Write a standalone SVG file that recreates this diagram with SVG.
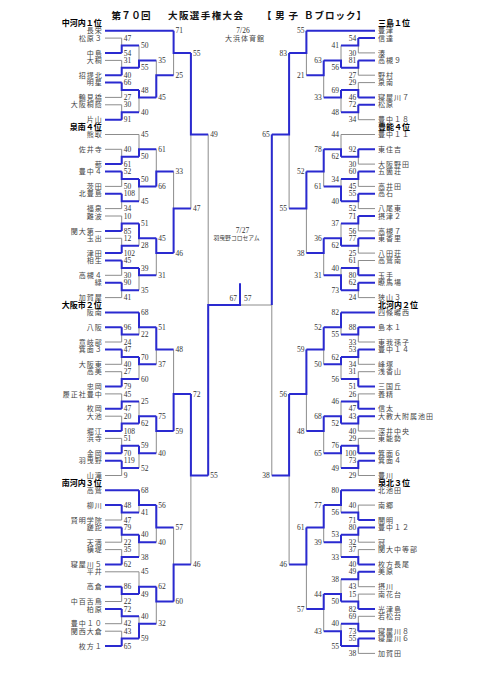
<svg xmlns="http://www.w3.org/2000/svg" width="481" height="680" viewBox="0 0 481 680">
<style>
.g{fill:none;stroke:#8c8c8c;stroke-width:1}
.b{fill:none;stroke:#2a2ad0;stroke-width:2}
.n{font-family:"Liberation Serif",serif;font-size:7.5px;fill:#333}
.nl text{text-anchor:start}
.nr text{text-anchor:end}
.t{font-family:"Noto Sans CJK JP",sans-serif;font-size:7px;letter-spacing:1px;fill:#444}
.tl{text-anchor:end}
.h{font-family:"Noto Sans CJK JP",sans-serif;font-size:8px;font-weight:bold;fill:#000}
.ti{font-family:"Noto Sans CJK JP",sans-serif;font-size:9.5px;font-weight:bold;fill:#111}
.s{font-family:"Noto Sans CJK JP",sans-serif;fill:#444}
</style>
<rect width="481" height="680" fill="#fff"/>
<g id="title">
<text class="ti" x="111.5" y="18.5" textLength="39" lengthAdjust="spacing">第７０回</text>
<text class="ti" x="168" y="18.5" textLength="75" lengthAdjust="spacing">大阪選手権大会</text>
<text class="ti" x="262" y="18.5" textLength="36" lengthAdjust="spacing">【男子</text>
<text class="ti" x="304" y="18.5" textLength="62" lengthAdjust="spacing">Ｂブロック】</text>
</g>
<g id="venue1">
<text class="n" x="243" y="33" text-anchor="middle">7/26</text>
<text class="s" x="245" y="40.5" font-size="7" letter-spacing="1" text-anchor="middle">大浜体育館</text>
</g>
<g id="venue2">
<text class="n" x="242.5" y="232.5" text-anchor="middle">7/27</text>
<text class="s" x="236.5" y="239.5" font-size="5.8" text-anchor="middle">羽曳野コロセアム</text>
</g>
<g id="connectors">
<path class="g" d="M105 38.1H121.7M105 60.4H121.7M105 97.4H121.7M105 104.8H121.7M105 134.5H139M105 149.3H121.7M105 186.4H121.7M105 208.6H121.7M105 216H121.7M105 238.3H121.7M105 275.3H121.7M105 297.6H121.7M105 342H121.7M105 364.3H121.7M105 371.7H121.7M105 393.9H121.7M105 416.2H121.7M105 438.4H121.7M105 475.5H121.7M105 520H121.7M105 542.2H121.7M105 549.6H121.7M105 571.8H139M105 601.5H121.7M105 623.7H121.7M105 631.2H121.7
M121.7 38.1V52.9M121.7 60.4V75.2M121.7 82.6V97.4M121.7 104.8V119.7M121.7 149.3V164.1M121.7 171.5V186.4M121.7 193.8V208.6M121.7 216V230.9M121.7 238.3V253.1M121.7 260.5V275.3M121.7 282.7V297.6M121.7 327.2V342M121.7 349.5V364.3M121.7 371.7V386.5M121.7 393.9V408.8M121.7 416.2V431M121.7 438.4V453.2M121.7 460.7V475.5M121.7 505.1V520M121.7 527.4V542.2M121.7 549.6V564.4M121.7 586.7V601.5M121.7 608.9V623.7M121.7 631.2V646
M139 45.5V67.8M139 90V112.2M139 134.5V156.7M139 178.9V201.2M139 223.4V245.7M139 267.9V290.2M139 312.4V334.6M139 356.9V379.1M139 401.4V423.6M139 445.8V468.1M139 490.3V512.5M139 534.8V557M139 571.8V594.1M139 616.3V638.6
M156.3 60.4V97.4M156.3 149.3V186.4M156.3 238.3V275.3M156.3 327.2V364.3M156.3 416.2V453.2M156.3 505.1V542.2M156.3 586.7V623.7
M173.6 30.7V75.2M173.6 171.5V253.1M173.6 349.5V431M173.6 527.4V601.5
M190.9 52.9V208.6M190.9 393.9V564.4
M208.2 134.5V475.5
M240 305H271.8
M375 52.9H358.3M375 75.2H358.3M375 82.6H358.3M375 119.7H358.3M375 134.5H341M375 164.1H358.3M375 186.4H358.3M375 208.6H358.3M375 230.9H358.3M375 253.1H358.3M375 260.5H358.3M375 297.6H358.3M375 342H358.3M375 364.3H358.3M375 371.7H358.3M375 393.9H358.3M375 431H358.3M375 438.4H358.3M375 475.5H358.3M375 505.1H358.3M375 542.2H358.3M375 549.6H358.3M375 586.7H358.3M375 594.1H358.3M375 616.3H358.3M375 653.4H358.3
M358.3 38.1V52.9M358.3 60.4V75.2M358.3 82.6V97.4M358.3 104.8V119.7M358.3 149.3V164.1M358.3 171.5V186.4M358.3 193.8V208.6M358.3 216V230.9M358.3 238.3V253.1M358.3 260.5V275.3M358.3 282.7V297.6M358.3 327.2V342M358.3 349.5V364.3M358.3 371.7V386.5M358.3 393.9V408.8M358.3 416.2V431M358.3 438.4V453.2M358.3 460.7V475.5M358.3 505.1V520M358.3 527.4V542.2M358.3 549.6V564.4M358.3 571.8V586.7M358.3 594.1V608.9M358.3 616.3V631.2M358.3 638.6V653.4
M341 45.5V67.8M341 90V112.2M341 134.5V156.7M341 178.9V201.2M341 223.4V245.7M341 267.9V290.2M341 312.4V334.6M341 356.9V379.1M341 401.4V423.6M341 445.8V468.1M341 490.3V512.5M341 534.8V557M341 579.3V601.5M341 623.7V646
M323.7 60.4V97.4M323.7 149.3V186.4M323.7 238.3V275.3M323.7 327.2V364.3M323.7 416.2V453.2M323.7 505.1V542.2M323.7 594.1V631.2
M306.4 30.7V75.2M306.4 171.5V253.1M306.4 349.5V431M306.4 527.4V608.9
M289.1 52.9V208.6M289.1 393.9V564.4
M271.8 134.5V475.5"/>
<path class="b" d="M105 30.7H173.6M105 52.9H121.7M105 75.2H121.7M105 82.6H121.7M105 119.7H121.7M105 164.1H121.7M105 171.5H121.7M105 193.8H121.7M105 230.9H121.7M105 253.1H121.7M105 260.5H121.7M105 282.7H121.7M105 312.4H139M105 327.2H121.7M105 349.5H121.7M105 386.5H121.7M105 408.8H121.7M105 431H121.7M105 453.2H121.7M105 460.7H121.7M105 490.3H139M105 505.1H121.7M105 527.4H121.7M105 564.4H121.7M105 586.7H121.7M105 608.9H121.7M105 646H121.7
M121.7 52.9V45.5H139M121.7 75.2V67.8H139M121.7 82.6V90H139M121.7 119.7V112.2H139M121.7 164.1V156.7H139M121.7 171.5V178.9H139M121.7 193.8V201.2H139M121.7 230.9V223.4H139M121.7 253.1V245.7H139M121.7 260.5V267.9H139M121.7 282.7V290.2H139M121.7 327.2V334.6H139M121.7 349.5V356.9H139M121.7 386.5V379.1H139M121.7 408.8V401.4H139M121.7 431V423.6H139M121.7 453.2V445.8H139M121.7 460.7V468.1H139M121.7 505.1V512.5H139M121.7 527.4V534.8H139M121.7 564.4V557H139M121.7 586.7V594.1H139M121.7 608.9V616.3H139M121.7 646V638.6H139
M139 67.8V60.4H156.3M139 90V97.4H156.3M139 156.7V149.3H156.3M139 178.9V186.4H156.3M139 223.4V238.3H156.3M139 267.9V275.3H156.3M139 312.4V327.2H156.3M139 356.9V364.3H156.3M139 423.6V416.2H156.3M139 445.8V453.2H156.3M139 490.3V505.1H156.3M139 534.8V542.2H156.3M139 594.1V586.7H156.3M139 638.6V623.7H156.3
M156.3 97.4V75.2H173.6M156.3 186.4V171.5H173.6M156.3 238.3V253.1H173.6M156.3 327.2V349.5H173.6M156.3 416.2V431H173.6M156.3 505.1V527.4H173.6M156.3 586.7V601.5H173.6
M173.6 30.7V52.9H190.9M173.6 253.1V208.6H190.9M173.6 431V393.9H190.9M173.6 601.5V564.4H190.9
M190.9 52.9V134.5H208.2M190.9 393.9V475.5H208.2
M208.2 475.5V305H240V283.3
M375 30.7H306.4M375 38.1H358.3M375 60.4H358.3M375 97.4H358.3M375 104.8H358.3M375 149.3H358.3M375 171.5H358.3M375 193.8H358.3M375 216H358.3M375 238.3H358.3M375 275.3H358.3M375 282.7H358.3M375 312.4H341M375 327.2H358.3M375 349.5H358.3M375 386.5H358.3M375 408.8H358.3M375 416.2H358.3M375 453.2H358.3M375 460.7H358.3M375 490.3H341M375 520H358.3M375 527.4H358.3M375 564.4H358.3M375 571.8H358.3M375 608.9H358.3M375 631.2H358.3M375 638.6H358.3
M358.3 38.1V45.5H341M358.3 60.4V67.8H341M358.3 97.4V90H341M358.3 104.8V112.2H341M358.3 149.3V156.7H341M358.3 171.5V178.9H341M358.3 193.8V201.2H341M358.3 216V223.4H341M358.3 238.3V245.7H341M358.3 275.3V267.9H341M358.3 282.7V290.2H341M358.3 327.2V334.6H341M358.3 349.5V356.9H341M358.3 386.5V379.1H341M358.3 408.8V401.4H341M358.3 416.2V423.6H341M358.3 453.2V445.8H341M358.3 460.7V468.1H341M358.3 520V512.5H341M358.3 527.4V534.8H341M358.3 564.4V557H341M358.3 571.8V579.3H341M358.3 608.9V601.5H341M358.3 631.2V623.7H341M358.3 638.6V646H341
M341 67.8V60.4H323.7M341 90V97.4H323.7M341 156.7V149.3H323.7M341 201.2V186.4H323.7M341 245.7V238.3H323.7M341 290.2V275.3H323.7M341 312.4V327.2H323.7M341 356.9V364.3H323.7M341 423.6V416.2H323.7M341 445.8V453.2H323.7M341 490.3V505.1H323.7M341 534.8V542.2H323.7M341 601.5V594.1H323.7M341 646V631.2H323.7
M323.7 60.4V75.2H306.4M323.7 149.3V171.5H306.4M323.7 238.3V253.1H306.4M323.7 327.2V349.5H306.4M323.7 416.2V431H306.4M323.7 505.1V527.4H306.4M323.7 594.1V608.9H306.4
M306.4 30.7V52.9H289.1M306.4 171.5V208.6H289.1M306.4 349.5V393.9H289.1M306.4 527.4V564.4H289.1
M289.1 52.9V134.5H271.8M289.1 393.9V475.5H271.8
M271.8 134.5V305"/>
</g>
<g id="scores-left" class="n nl">
<text x="123.7" y="40.7">47</text><text x="123.7" y="55.5">54</text><text x="123.7" y="63">31</text><text x="123.7" y="77.8">40</text><text x="123.7" y="85.2">66</text><text x="123.7" y="100">27</text><text x="123.7" y="107.4">30</text><text x="123.7" y="122.3">91</text><text x="123.7" y="151.9">40</text><text x="123.7" y="166.7">61</text><text x="123.7" y="174.1">52</text><text x="123.7" y="189">50</text><text x="123.7" y="196.4">108</text><text x="123.7" y="211.2">34</text><text x="123.7" y="218.6">10</text><text x="123.7" y="233.5">85</text><text x="123.7" y="240.9">12</text><text x="123.7" y="255.7">102</text><text x="123.7" y="263.1">45</text><text x="123.7" y="277.9">30</text><text x="123.7" y="285.3">90</text><text x="123.7" y="300.2">41</text><text x="123.7" y="329.8">96</text><text x="123.7" y="344.6">24</text><text x="123.7" y="352.1">47</text><text x="123.7" y="366.9">40</text><text x="123.7" y="374.3">27</text><text x="123.7" y="389.1">79</text><text x="123.7" y="396.5">45</text><text x="123.7" y="411.4">47</text><text x="123.7" y="418.8">20</text><text x="123.7" y="433.6">108</text><text x="123.7" y="441">51</text><text x="123.7" y="455.8">70</text><text x="123.7" y="463.3">119</text><text x="123.7" y="478.1">9</text><text x="123.7" y="507.7">48</text><text x="123.7" y="522.6">47</text><text x="123.7" y="530">79</text><text x="123.7" y="544.8">22</text><text x="123.7" y="552.2">35</text><text x="123.7" y="567">62</text><text x="123.7" y="589.3">86</text><text x="123.7" y="604.1">22</text><text x="123.7" y="611.5">72</text><text x="123.7" y="626.3">42</text><text x="123.7" y="633.8">43</text><text x="123.7" y="648.6">65</text>
<text x="141" y="48.1">50</text><text x="141" y="70.4">55</text><text x="141" y="92.6">48</text><text x="141" y="114.8">40</text><text x="141" y="137.1">45</text><text x="141" y="159.3">50</text><text x="141" y="181.5">50</text><text x="141" y="203.8">45</text><text x="141" y="226">51</text><text x="141" y="248.3">28</text><text x="141" y="270.5">39</text><text x="141" y="292.8">35</text><text x="141" y="315">68</text><text x="141" y="337.2">22</text><text x="141" y="359.5">70</text><text x="141" y="381.7">60</text><text x="141" y="404">25</text><text x="141" y="426.2">62</text><text x="141" y="448.4">59</text><text x="141" y="470.7">52</text><text x="141" y="492.9">68</text><text x="141" y="515.1">41</text><text x="141" y="537.4">40</text><text x="141" y="559.6">38</text><text x="141" y="574.4">45</text><text x="141" y="596.7">49</text><text x="141" y="618.9">40</text><text x="141" y="641.2">59</text>
<text x="158.3" y="63">35</text><text x="158.3" y="100">45</text><text x="158.3" y="151.9">61</text><text x="158.3" y="189">66</text><text x="158.3" y="240.9">45</text><text x="158.3" y="277.9">31</text><text x="158.3" y="329.8">51</text><text x="158.3" y="366.9">37</text><text x="158.3" y="418.8">75</text><text x="158.3" y="455.8">40</text><text x="158.3" y="507.7">56</text><text x="158.3" y="544.8">40</text><text x="158.3" y="589.3">62</text><text x="158.3" y="626.3">32</text>
<text x="175.6" y="33.3">71</text><text x="175.6" y="77.8">25</text><text x="175.6" y="174.1">33</text><text x="175.6" y="255.7">46</text><text x="175.6" y="352.1">48</text><text x="175.6" y="433.6">59</text><text x="175.6" y="530">57</text><text x="175.6" y="604.1">60</text>
<text x="192.9" y="55.5">55</text><text x="192.9" y="211.2">47</text><text x="192.9" y="396.5">72</text><text x="192.9" y="567">46</text>
<text x="210.2" y="137.1">49</text><text x="210.2" y="478.1">55</text>
<text x="244" y="301">57</text>
</g>
<g id="scores-right" class="n nr">
<text x="237" y="301">67</text>
<text x="356.3" y="40.7">54</text><text x="356.3" y="55.5">30</text><text x="356.3" y="63">81</text><text x="356.3" y="77.8">27</text><text x="356.3" y="85.2">29</text><text x="356.3" y="100">46</text><text x="356.3" y="107.4">72</text><text x="356.3" y="122.3">34</text><text x="356.3" y="151.9">92</text><text x="356.3" y="166.7">30</text><text x="356.3" y="174.1">60</text><text x="356.3" y="189">45</text><text x="356.3" y="196.4">55</text><text x="356.3" y="211.2">52</text><text x="356.3" y="218.6">71</text><text x="356.3" y="233.5">56</text><text x="356.3" y="240.9">77</text><text x="356.3" y="255.7">25</text><text x="356.3" y="263.1">61</text><text x="356.3" y="277.9">80</text><text x="356.3" y="285.3">62</text><text x="356.3" y="300.2">24</text><text x="356.3" y="329.8">88</text><text x="356.3" y="344.6">33</text><text x="356.3" y="352.1">53</text><text x="356.3" y="366.9">34</text><text x="356.3" y="374.3">31</text><text x="356.3" y="389.1">51</text><text x="356.3" y="396.5">26</text><text x="356.3" y="411.4">47</text><text x="356.3" y="418.8">43</text><text x="356.3" y="433.6">40</text><text x="356.3" y="441">29</text><text x="356.3" y="455.8">100</text><text x="356.3" y="463.3">73</text><text x="356.3" y="478.1">29</text><text x="356.3" y="507.7">40</text><text x="356.3" y="522.6">71</text><text x="356.3" y="530">80</text><text x="356.3" y="544.8">32</text><text x="356.3" y="552.2">37</text><text x="356.3" y="567">40</text><text x="356.3" y="574.4">49</text><text x="356.3" y="589.3">43</text><text x="356.3" y="596.7">15</text><text x="356.3" y="611.5">82</text><text x="356.3" y="618.9">69</text><text x="356.3" y="633.8">73</text><text x="356.3" y="641.2">55</text><text x="356.3" y="656">38</text>
<text x="339" y="48.1">41</text><text x="339" y="70.4">56</text><text x="339" y="92.6">69</text><text x="339" y="114.8">48</text><text x="339" y="137.1">44</text><text x="339" y="159.3">62</text><text x="339" y="181.5">34</text><text x="339" y="203.8">40</text><text x="339" y="226">37</text><text x="339" y="248.3">62</text><text x="339" y="270.5">40</text><text x="339" y="292.8">73</text><text x="339" y="315">82</text><text x="339" y="337.2">55</text><text x="339" y="359.5">62</text><text x="339" y="381.7">56</text><text x="339" y="404">46</text><text x="339" y="426.2">52</text><text x="339" y="448.4">76</text><text x="339" y="470.7">49</text><text x="339" y="492.9">80</text><text x="339" y="515.1">56</text><text x="339" y="537.4">53</text><text x="339" y="559.6">33</text><text x="339" y="581.9">38</text><text x="339" y="604.1">50</text><text x="339" y="626.3">40</text><text x="339" y="648.6">55</text>
<text x="321.7" y="63">63</text><text x="321.7" y="100">33</text><text x="321.7" y="151.9">78</text><text x="321.7" y="189">61</text><text x="321.7" y="240.9">36</text><text x="321.7" y="277.9">31</text><text x="321.7" y="329.8">52</text><text x="321.7" y="366.9">50</text><text x="321.7" y="418.8">68</text><text x="321.7" y="455.8">65</text><text x="321.7" y="507.7">77</text><text x="321.7" y="544.8">39</text><text x="321.7" y="596.7">44</text><text x="321.7" y="633.8">43</text>
<text x="304.4" y="33.3">55</text><text x="304.4" y="77.8">21</text><text x="304.4" y="174.1">52</text><text x="304.4" y="255.7">38</text><text x="304.4" y="352.1">59</text><text x="304.4" y="433.6">48</text><text x="304.4" y="530">61</text><text x="304.4" y="611.5">57</text>
<text x="287.1" y="55.5">83</text><text x="287.1" y="211.2">55</text><text x="287.1" y="396.5">56</text><text x="287.1" y="567">46</text>
<text x="269.8" y="137.1">65</text><text x="269.8" y="478.1">38</text>
</g>
<g id="headers">
<text class="h" x="101.7" y="26.1" text-anchor="end">中河内１位</text>
<text class="h" x="101.7" y="129.9" text-anchor="end">泉南４位</text>
<text class="h" x="101.7" y="307.8" text-anchor="end">大阪市２位</text>
<text class="h" x="101.7" y="485.7" text-anchor="end">南河内３位</text>
<text class="h" x="378" y="26.1">三島１位</text>
<text class="h" x="378" y="129.9">豊能４位</text>
<text class="h" x="378" y="307.8">北河内２位</text>
<text class="h" x="378" y="485.7">泉北３位</text>
</g>
<g class="t tl">
<g id="L00"><text x="102.7" y="33.3">長栄</text></g>
<g id="L01"><text x="102.7" y="40.7">松原３</text></g>
<g id="L03"><text x="102.7" y="55.5">中島</text></g>
<g id="L04"><text x="102.7" y="63">大桐</text></g>
<g id="L06"><text x="102.7" y="77.8">招提北</text></g>
<g id="L07"><text x="102.7" y="85.2">明星</text></g>
<g id="L09"><text x="102.7" y="100">鶴見橋</text></g>
<g id="L10"><text x="102.7" y="107.4">大阪桐蔭</text></g>
<g id="L12"><text x="102.7" y="122.3">片山</text></g>
<g id="L14"><text x="102.7" y="137.1">熊取</text></g>
<g id="L16"><text x="102.7" y="151.9">佐井寺</text></g>
<g id="L18"><text x="102.7" y="166.7">蔀</text></g>
<g id="L19"><text x="102.7" y="174.1">豊中４</text></g>
<g id="L21"><text x="102.7" y="189">茨田</text></g>
<g id="L22"><text x="102.7" y="196.4">北豊島</text></g>
<g id="L24"><text x="102.7" y="211.2">福泉</text></g>
<g id="L25"><text x="102.7" y="218.6">難波</text></g>
<g id="L27"><text x="102.7" y="233.5">関大第一</text></g>
<g id="L28"><text x="102.7" y="240.9">玉出</text></g>
<g id="L30"><text x="102.7" y="255.7">津田</text></g>
<g id="L31"><text x="102.7" y="263.1">相生</text></g>
<g id="L33"><text x="102.7" y="277.9">高槻４</text></g>
<g id="L34"><text x="102.7" y="285.3">緑</text></g>
<g id="L36"><text x="102.7" y="300.2">加賀屋</text></g>
<g id="L38"><text x="102.7" y="315">阪南</text></g>
<g id="L40"><text x="102.7" y="329.8">八阪</text></g>
<g id="L42"><text x="102.7" y="344.6">意岐部</text></g>
<g id="L43"><text x="102.7" y="352.1">箕面３</text></g>
<g id="L45"><text x="102.7" y="366.9">大阪東</text></g>
<g id="L46"><text x="102.7" y="374.3">高美</text></g>
<g id="L48"><text x="102.7" y="389.1">忠岡</text></g>
<g id="L49"><text x="102.7" y="396.5">履正社豊中</text></g>
<g id="L51"><text x="102.7" y="411.4">枚岡</text></g>
<g id="L52"><text x="102.7" y="418.8">大池</text></g>
<g id="L54"><text x="102.7" y="433.6">堀江</text></g>
<g id="L55"><text x="102.7" y="441">浜寺</text></g>
<g id="L57"><text x="102.7" y="455.8">金岡</text></g>
<g id="L58"><text x="102.7" y="463.3">羽曳野</text></g>
<g id="L60"><text x="102.7" y="478.1">山滝</text></g>
<g id="L62"><text x="102.7" y="492.9">高鷲</text></g>
<g id="L64"><text x="102.7" y="507.7">柳川</text></g>
<g id="L66"><text x="102.7" y="522.6">賢明学院</text></g>
<g id="L67"><text x="102.7" y="530">蹉跎</text></g>
<g id="L69"><text x="102.7" y="544.8">天満</text></g>
<g id="L70"><text x="102.7" y="552.2">横堤</text></g>
<g id="L72"><text x="102.7" y="567">寝屋川５</text></g>
<g id="L73"><text x="102.7" y="574.4">平井</text></g>
<g id="L75"><text x="102.7" y="589.3">高倉</text></g>
<g id="L77"><text x="102.7" y="604.1">中百舌鳥</text></g>
<g id="L78"><text x="102.7" y="611.5">柏原</text></g>
<g id="L80"><text x="102.7" y="626.3">豊中１０</text></g>
<g id="L81"><text x="102.7" y="633.8">関西大倉</text></g>
<g id="L83"><text x="102.7" y="648.6">枚方１</text></g>
</g>
<g class="t">
<g id="R00"><text x="378" y="33.3">豊津</text></g>
<g id="R01"><text x="378" y="40.7">信達</text></g>
<g id="R03"><text x="378" y="55.5">湊</text></g>
<g id="R04"><text x="378" y="63">高槻９</text></g>
<g id="R06"><text x="378" y="77.8">野村</text></g>
<g id="R07"><text x="378" y="85.2">泉南</text></g>
<g id="R09"><text x="378" y="100">寝屋川７</text></g>
<g id="R10"><text x="378" y="107.4">松原</text></g>
<g id="R12"><text x="378" y="122.3">豊中１８</text></g>
<g id="R14"><text x="378" y="137.1">豊中１１</text></g>
<g id="R16"><text x="378" y="151.9">東住吉</text></g>
<g id="R18"><text x="378" y="166.7">大阪野田</text></g>
<g id="R19"><text x="378" y="174.1">五箇荘</text></g>
<g id="R21"><text x="378" y="189">高井田</text></g>
<g id="R22"><text x="378" y="196.4">高石</text></g>
<g id="R24"><text x="378" y="211.2">八尾東</text></g>
<g id="R25"><text x="378" y="218.6">摂津２</text></g>
<g id="R27"><text x="378" y="233.5">高槻７</text></g>
<g id="R28"><text x="378" y="240.9">東香里</text></g>
<g id="R30"><text x="378" y="255.7">八田荘</text></g>
<g id="R31"><text x="378" y="263.1">高鷲南</text></g>
<g id="R33"><text x="378" y="277.9">玉手</text></g>
<g id="R34"><text x="378" y="285.3">瞭馬場</text></g>
<g id="R36"><text x="378" y="300.2">狭山３</text></g>
<g id="R38"><text x="378" y="315">四條畷西</text></g>
<g id="R40"><text x="378" y="329.8">島本１</text></g>
<g id="R42"><text x="378" y="344.6">東我孫子</text></g>
<g id="R43"><text x="378" y="352.1">豊中１４</text></g>
<g id="R45"><text x="378" y="366.9">峰塚</text></g>
<g id="R46"><text x="378" y="374.3">浅香山</text></g>
<g id="R48"><text x="378" y="389.1">三国丘</text></g>
<g id="R49"><text x="378" y="396.5">養精</text></g>
<g id="R51"><text x="378" y="411.4">信太</text></g>
<g id="R52"><text x="378" y="418.8">大教大附属池田</text></g>
<g id="R54"><text x="378" y="433.6">深井中央</text></g>
<g id="R55"><text x="378" y="441">東能勢</text></g>
<g id="R57"><text x="378" y="455.8">箕面６</text></g>
<g id="R58"><text x="378" y="463.3">箕面４</text></g>
<g id="R60"><text x="378" y="478.1">豊川</text></g>
<g id="R62"><text x="378" y="492.9">北池田</text></g>
<g id="R64"><text x="378" y="507.7">南郷</text></g>
<g id="R66"><text x="378" y="522.6">開明</text></g>
<g id="R67"><text x="378" y="530">豊中１２</text></g>
<g id="R69"><text x="378" y="544.8">冠</text></g>
<g id="R70"><text x="378" y="552.2">関大中等部</text></g>
<g id="R72"><text x="378" y="567">枚方長尾</text></g>
<g id="R73"><text x="378" y="574.4">美原</text></g>
<g id="R75"><text x="378" y="589.3">摂川</text></g>
<g id="R76"><text x="378" y="596.7">南花台</text></g>
<g id="R78"><text x="378" y="611.5">光津島</text></g>
<g id="R79"><text x="378" y="618.9">若松台</text></g>
<g id="R81"><text x="378" y="633.8">寝屋川８</text></g>
<g id="R82"><text x="378" y="641.2">寝屋川６</text></g>
<g id="R84"><text x="378" y="656">加賀田</text></g>
</g>
</svg>
